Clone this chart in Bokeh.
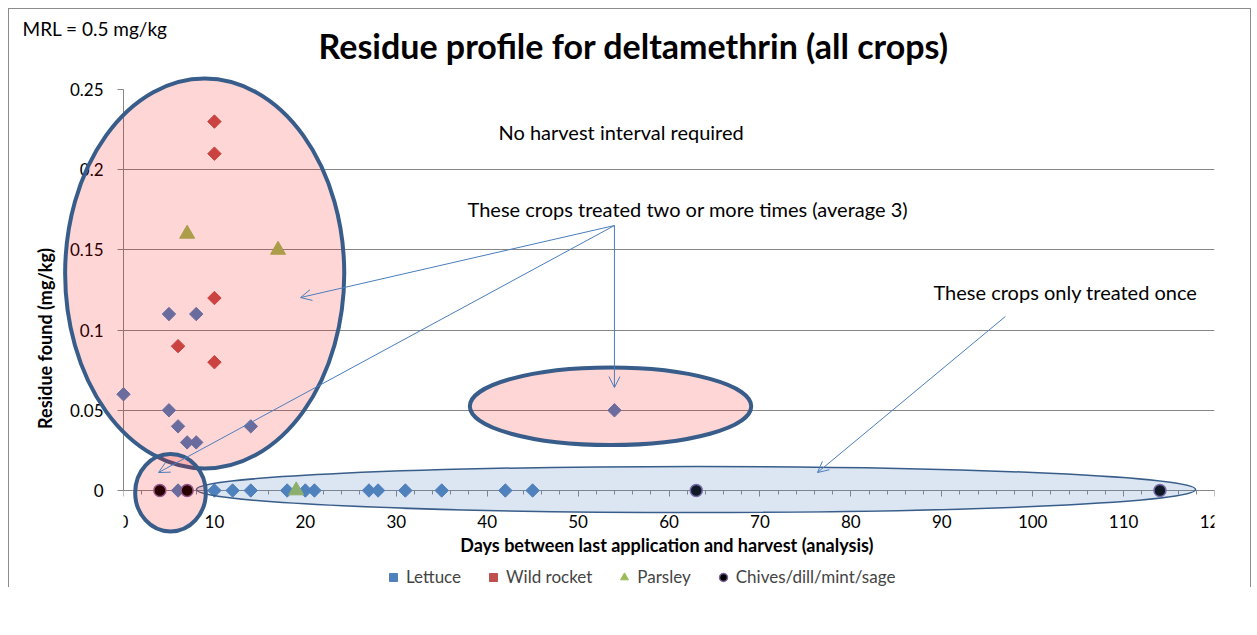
import math
from bokeh.plotting import figure
from bokeh.models import (FixedTicker, NumeralTickFormatter, Legend, LegendItem,
                          Arrow, OpenHead, Label, InlineStyleSheet)
from bokeh.core.properties import value
from bokeh.embed import file_html
from bokeh.resources import INLINE

# ---------------- data ----------------
lettuce_days = [0, 5, 5, 6, 7, 8, 8, 14, 54,
                6, 10, 12, 14, 18, 20, 21, 27, 28, 31, 35, 42, 45]
lettuce_residue = [0.06, 0.11, 0.05, 0.04, 0.03, 0.11, 0.03, 0.04, 0.05,
                   0, 0, 0, 0, 0, 0, 0, 0, 0, 0, 0, 0, 0]
rocket_days = [10, 10, 10, 10, 6]
rocket_residue = [0.23, 0.21, 0.12, 0.08, 0.09]
parsley_days = [7, 17, 19]
parsley_residue = [0.16, 0.15, 0.0]
chives_days = [4, 7, 63, 114]
chives_residue = [0, 0, 0, 0]

x_major_ticks = [0, 10, 20, 30, 40, 50, 60, 70, 80, 90, 100, 110, 120]
x_minor_ticks = [2, 4, 6, 8, 12, 14, 16, 18, 22, 24, 26, 28, 32, 34, 36, 38, 42, 44, 46, 48,
                 52, 54, 56, 58, 62, 64, 66, 68, 72, 74, 76, 78, 82, 84, 86, 88, 92, 94, 96, 98,
                 102, 104, 106, 108, 112, 114, 116, 118]
y_major_ticks = [0, 0.05, 0.1, 0.15, 0.2, 0.25]

title_text = "Residue profile for deltamethrin (all crops)"
mrl_text = "MRL = 0.5 mg/kg"
x_label = "Days between last application  and harvest (analysis)"
y_label = "Residue found (mg/kg)"

FONT = "Lato"
GRID = "#868686"
OUTLINE = "#385D8A"
ARROW = "#4A7EBB"

# ---------------- figure ----------------
# frame extends below the x axis (axis drawn at y = 0) so the legend fits inside it
p = figure(frame_width=1091, frame_height=498, x_range=(0, 120), y_range=(-0.06047, 0.25),
           output_backend="svg", toolbar_location=None,
           min_border_left=123, min_border_right=43, min_border_top=89, min_border_bottom=0)
p.outline_line_color = None
p.stylesheets = [InlineStyleSheet(css=":host::after{content:'';position:absolute;left:8px;top:8px;right:6px;bottom:0;border:1px solid #8c8c8c;border-bottom:none;pointer-events:none;}")]

p.title.text = title_text
p.title.text_font = FONT
p.title.text_font_style = "bold"
p.title.text_font_size = "34px"
p.title.text_color = "black"
p.title.align = "left"
p.title.offset = 195
p.title.standoff = 46
p.title.vertical_align = "middle"

# axes
p.xaxis.ticker = FixedTicker(ticks=x_major_ticks, minor_ticks=x_minor_ticks)
p.yaxis.ticker = FixedTicker(ticks=y_major_ticks)
p.yaxis.formatter = NumeralTickFormatter(format="0.[00]")
p.xaxis.fixed_location = 0
p.xaxis.bounds = (0, 120)
p.yaxis.bounds = (0, 0.25)
for ax in (p.xaxis[0], p.yaxis[0]):
    ax.axis_line_color = GRID
    ax.major_tick_line_color = GRID
    ax.minor_tick_line_color = GRID
    ax.major_tick_in = 0
    ax.major_tick_out = 6
    ax.minor_tick_in = 0
    ax.minor_tick_out = 4
    ax.major_label_text_font = FONT
    ax.major_label_text_font_size = "17px"
    ax.major_label_text_color = "black"
    ax.axis_label_text_font = FONT
    ax.axis_label_text_font_style = "bold"
    ax.axis_label_text_font_size = "18px"
    ax.axis_label_text_color = "black"
p.yaxis.minor_tick_line_color = None
p.yaxis.axis_label = y_label
p.xaxis.major_label_standoff = 18
p.yaxis.major_label_standoff = 14
p.yaxis.axis_label_standoff = 11

p.xgrid.visible = False
p.ygrid.ticker = FixedTicker(ticks=y_major_ticks)
p.ygrid.grid_line_color = GRID

# x axis title, drawn as text under the axis (inside the extended frame)
p.text(x=[60], y=[-0.034], text=[x_label], text_font=value(FONT), text_font_size="18px",
       text_font_style="bold", text_baseline="middle", text_align="center",
       text_color="black", level="overlay")

# ---------------- data marks ----------------
r_let = p.scatter(lettuce_days, lettuce_residue, marker="square", angle=math.pi / 4, size=9.5,
                  fill_color="#4F81BD", line_color="#4F81BD", level="overlay")
r_roc = p.scatter(rocket_days, rocket_residue, marker="square", angle=math.pi / 4, size=9.5,
                  fill_color="#C0504D", line_color="#C0504D", level="overlay")
r_par = p.scatter(parsley_days, parsley_residue, marker="triangle", size=15,
                  fill_color="#9BBB59", line_color="#9BBB59", level="overlay")
r_chi = p.scatter(chives_days, chives_residue, marker="circle", size=12,
                  fill_color="black", line_color="#8064A2", line_width=1.5, level="overlay")

# ---------------- highlight shapes (annotations) ----------------
pink_x = [8.93, 53.57, 5.17]
pink_y = [0.1353, 0.0525, -0.0014]
pink_w = [30.7, 30.95, 7.77]
pink_h = [0.2431, 0.0484, 0.0482]
p.ellipse(x=[62.97], y=[0.0006], width=[109.9], height=[0.0287],
          fill_color="#4F81BD", fill_alpha=0.2, line_color=OUTLINE, line_width=1.5, level="overlay")
p.ellipse(x=pink_x, y=pink_y, width=pink_w, height=pink_h,
          fill_color="#FF0000", fill_alpha=0.16, line_color=OUTLINE, line_width=4, level="overlay")

arrows = [((54.0, 0.1652), (19.47, 0.1203)),
          ((54.0, 0.1652), (3.85, 0.0112)),
          ((54.0, 0.1652), (54.0, 0.0642)),
          ((97.0, 0.1085), (76.33, 0.0112))]
for (xs, ys), (xe, ye) in arrows:
    p.add_layout(Arrow(end=OpenHead(size=11, line_color=ARROW, line_width=1),
                       x_start=xs, y_start=ys, x_end=xe, y_end=ye,
                       line_color=ARROW, line_width=1, level="overlay"))

for txt, tx, ty in [("No harvest interval required", 41.25, 0.2237),
                    ("These crops treated two or more times (average 3)", 37.84, 0.1758),
                    ("These crops only treated once", 89.09, 0.1236)]:
    p.add_layout(Label(x=tx, y=ty, text=txt, text_font=FONT, text_font_size="20px",
                       text_baseline="middle", text_align="left", text_color="black"))

p.text(x=[-11.11], y=[0.288], text=[mrl_text], text_font=value(FONT), text_font_size="19px",
       text_baseline="middle", text_align="left", text_color="black", level="overlay")

legend = Legend(items=[LegendItem(label="Lettuce", renderers=[r_let]),
                       LegendItem(label="Wild rocket", renderers=[r_roc]),
                       LegendItem(label="Parsley", renderers=[r_par]),
                       LegendItem(label="Chives/dill/mint/sage", renderers=[r_chi])],
                orientation="horizontal", location=(260, 0), padding=2, margin=0,
                spacing=22, glyph_width=20, glyph_height=20, label_standoff=3,
                label_text_font=FONT, label_text_font_size="17px",
                border_line_color=None, background_fill_alpha=0)
p.add_layout(legend)

open("out.html", "w").write(file_html(p, INLINE))
